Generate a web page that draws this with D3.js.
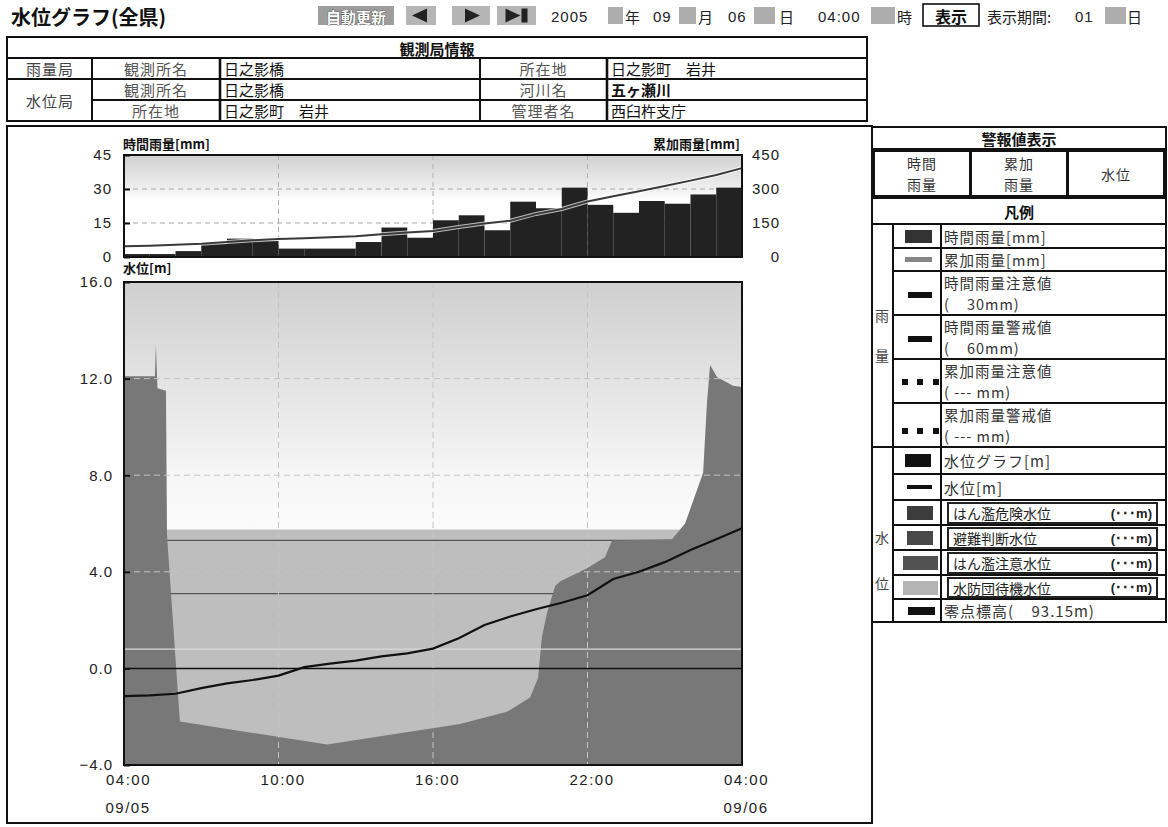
<!DOCTYPE html>
<html><head><meta charset="utf-8">
<script src="https://cdn.jsdelivr.net/npm/d3@7/dist/d3.min.js"></script>
<style>
html,body{margin:0;padding:0;background:#fff;}
svg{display:block;}
text{white-space:pre;}
</style></head><body>
<svg id="chart" width="1168" height="827"></svg>
<script>
// ---------- data ----------
const timeTickHours = [0, 6, 12, 18, 24];
const timeTickLabels = ["04:00", "10:00", "16:00", "22:00", "04:00"];
const dateLabels = ["09/05", "09/06"];

// hourly rainfall [mm], 04:00 on 09/05 to 04:00 on 09/06
const rainHourly = [1.3, 1.3, 2.6, 5.9, 8.1, 7.1, 3.7, 3.7, 3.7, 6.6, 13.0, 8.5,
                    16.2, 18.4, 11.8, 24.4, 21.5, 30.6, 23.0, 19.5, 24.7, 23.5, 27.6, 30.6];
// cumulative rainfall [mm] at each hour boundary
const rainCumulative = [47, 50, 54, 58, 66, 74, 79, 83, 87, 92, 100, 108,
                        115, 132, 148, 160, 190, 212, 245, 268, 290, 313, 337, 362, 392];
const rainTicks = [0, 15, 30, 45];
const cumTicks = [0, 150, 300, 450];

// water-level graph (filled area) : hour offset / value [m]
const graphHours  = [0, 1.20, 1.24, 1.30, 1.63, 1.67, 2.17, 7.88, 13.05, 14.87, 15.77, 16.08, 16.23,
                     16.43, 16.74, 16.93, 17.98, 18.68, 18.95, 21.28, 21.79, 22.49, 22.64, 22.76, 23.03, 23.65, 24];
const graphValues = [12.1, 12.1, 13.4, 11.6, 11.5, 5.5, -2.2, -3.15, -2.3, -1.8, -1.2, -0.4, 1.3,
                     2.3, 3.4, 3.6, 4.15, 4.6, 5.3, 5.35, 6.0, 8.1, 11.0, 12.56, 12.07, 11.7, 11.65];

// water level [m], hourly
const levelHours  = [0,1,2,3,4,5,6,7,8,9,10,11,12,13,14,15,16,17,18,19,20,21,22,23,24];
const levelValues = [-1.15, -1.12, -1.05, -0.82, -0.62, -0.48, -0.3, 0.05, 0.2, 0.32, 0.5, 0.62,
                     0.82, 1.25, 1.8, 2.15, 2.45, 2.72, 3.03, 3.7, 4.0, 4.4, 4.9, 5.35, 5.8];
const levelTicks = [-4, 0, 4, 8, 12, 16];
const levelBandTop = 5.75;          // top of the stand-by band
const levelLinesDark = [5.3, 3.1];  // warning lines
const levelLineLight = 0.8;
const levelZero = 0.0;

// station information
const stationTitle = "観測局情報";
const stationRows = [
  ["観測所名", "日之影橋", "所在地", "日之影町　岩井"],
  ["観測所名", "日之影橋", "河川名", "五ヶ瀬川"],
  ["所在地", "日之影町　岩井", "管理者名", "西臼杵支庁"]
];
const stationKinds = ["雨量局", "水位局"];

// legend
const alarmTitle = "警報値表示";
const alarmCells = [["時間", "雨量"], ["累加", "雨量"], ["水位"]];
const legendTitle = "凡例";
const legendRain = [["時間雨量[mm]"], ["累加雨量[mm]"], ["時間雨量注意値", "(    30mm)"],
                    ["時間雨量警戒値", "(    60mm)"], ["累加雨量注意値", "( --- mm)"], ["累加雨量警戒値", "( --- mm)"]];
const legendLevel = ["水位グラフ[m]", "水位[m]", "はん濫危険水位", "避難判断水位", "はん濫注意水位", "水防団待機水位", "零点標高(    93.15m)"];
const legendUnknown = "(･･･m)";

// ---------- drawing ----------
const svg = d3.select("#chart");
const JP = "'Noto Sans CJK JP','Noto Sans',sans-serif";
const NUM = "'Liberation Sans',Arial,sans-serif";

function txt(g, x, y, s, o = {}) {
  return g.append("text").attr("x", x).attr("y", y).text(s)
    .attr("font-family", o.ff || JP).attr("font-size", o.fs || 15)
    .attr("font-weight", o.fw || "normal").attr("fill", o.fill || "#111")
    .attr("text-anchor", o.anchor || "start").attr("dominant-baseline", "central")
    .attr("letter-spacing", o.ls || 0);
}

const defs = svg.append("defs");
const gr1 = defs.append("linearGradient").attr("id", "rainBg").attr("x1", 0).attr("y1", 0).attr("x2", 0).attr("y2", 1);
gr1.append("stop").attr("offset", "0%").attr("stop-color", "#d0d0d0");
gr1.append("stop").attr("offset", "30%").attr("stop-color", "#ececec");
gr1.append("stop").attr("offset", "45%").attr("stop-color", "#ffffff");
gr1.append("stop").attr("offset", "100%").attr("stop-color", "#ffffff");
const gr2 = defs.append("linearGradient").attr("id", "levelBg").attr("x1", 0).attr("y1", 0).attr("x2", 0).attr("y2", 1);
gr2.append("stop").attr("offset", "0%").attr("stop-color", "#cfcfcf");
gr2.append("stop").attr("offset", "40%").attr("stop-color", "#e3e3e3");
gr2.append("stop").attr("offset", "78%").attr("stop-color", "#f6f6f6");
gr2.append("stop").attr("offset", "100%").attr("stop-color", "#fbfbfb");

// ---- header ----
const hd = svg.append("g");
txt(hd, 11, 16, "水位グラフ(全県)", {fs: 20, fw: "bold"});
hd.append("rect").attr("x", 318).attr("y", 6).attr("width", 76).attr("height", 19).attr("fill", "#9d9d9d");
txt(hd, 356, 16, "自動更新", {fs: 15, fw: "bold", anchor: "middle", fill: "#fff"})
  .attr("stroke", "#333").attr("stroke-width", 0.7).attr("paint-order", "stroke");
const btns = [[406, 30, "prev"], [452, 38, "next"], [497, 39, "last"]];
btns.forEach(([x, w, k]) => {
  hd.append("rect").attr("x", x).attr("y", 6).attr("width", w).attr("height", 19).attr("fill", "#b5b5b5");
  const cx = x + w / 2, cy = 15.5;
  if (k === "prev") hd.append("path").attr("d", `M${cx - 9},${cy} L${cx + 6},${cy - 7} L${cx + 6},${cy + 7} Z`).attr("fill", "#222");
  if (k === "next") hd.append("path").attr("d", `M${cx + 9},${cy} L${cx - 6},${cy - 7} L${cx - 6},${cy + 7} Z`).attr("fill", "#222");
  if (k === "last") {
    hd.append("path").attr("d", `M${cx + 4},${cy} L${cx - 11},${cy - 7} L${cx - 11},${cy + 7} Z`).attr("fill", "#222");
    hd.append("rect").attr("x", cx + 5).attr("y", cy - 7).attr("width", 6).attr("height", 14).attr("fill", "#222");
  }
});
const hdrItems = [[551, "2005", NUM], [625, "年", JP], [653, "09", NUM], [698, "月", JP], [728, "06", NUM],
                  [779, "日", JP], [818, "04:00", NUM], [897, "時", JP], [987, "表示期間:", JP], [1075, "01", NUM], [1127, "日", JP]];
hdrItems.forEach(([x, s, f]) => txt(hd, x, 16, s, {fs: 15, ff: f, fill: "#222", ls: f === NUM ? 1 : 0}));
[[608, 15], [679, 17], [754, 21], [871, 24], [1105, 21]].forEach(([x, w]) =>
  hd.append("rect").attr("x", x).attr("y", 7).attr("width", w).attr("height", 17).attr("fill", "#adadad"));
hd.append("rect").attr("x", 923).attr("y", 4).attr("width", 56).attr("height", 22)
  .attr("fill", "#fff").attr("stroke", "#111").attr("stroke-width", 1.6);
txt(hd, 951, 15.5, "表示", {fs: 16, fw: "bold", anchor: "middle"});

// ---- station table ----
const st = svg.append("g");
const tc = [7, 92, 220, 480, 607, 867], tr = [37, 58, 79, 100, 121];
const ln = (g, x1, y1, x2, y2, w = 2, c = "#111") => g.append("line").attr("x1", x1).attr("y1", y1)
  .attr("x2", x2).attr("y2", y2).attr("stroke", c).attr("stroke-width", w);
st.append("rect").attr("x", tc[0]).attr("y", tr[0]).attr("width", tc[5] - tc[0]).attr("height", tr[4] - tr[0])
  .attr("fill", "none").attr("stroke", "#111").attr("stroke-width", 2);
ln(st, tc[0], tr[1], tc[5], tr[1]);
ln(st, tc[0], tr[2], tc[5], tr[2]);
ln(st, tc[1], tr[3], tc[5], tr[3]);
[1, 2, 3, 4].forEach(i => ln(st, tc[i], tr[1], tc[i], tr[4], i === 2 || i === 4 ? 2.6 : 2));
txt(st, 437, 48, stationTitle, {fs: 15, fw: "bold", anchor: "middle"});
txt(st, 50, (tr[1] + tr[2]) / 2, stationKinds[0], {fs: 15, anchor: "middle", fill: "#444", ls: 1});
txt(st, 50, (tr[2] + tr[4]) / 2, stationKinds[1], {fs: 15, anchor: "middle", fill: "#444", ls: 1});
stationRows.forEach((r, i) => {
  const cy = (tr[i + 1] + tr[i + 2]) / 2;
  txt(st, (tc[1] + tc[2]) / 2, cy, r[0], {fs: 15, anchor: "middle", fill: "#555", ls: 1});
  txt(st, tc[2] + 4, cy, r[1], {fs: 15, fill: "#111"});
  txt(st, (tc[3] + tc[4]) / 2, cy, r[2], {fs: 15, anchor: "middle", fill: "#555", ls: 1});
  txt(st, tc[4] + 4, cy, r[3], {fs: 15, fill: "#111", fw: i === 1 ? "bold" : "normal"});
});

// ---- chart frame ----
svg.append("rect").attr("x", 7).attr("y", 126).attr("width", 865).attr("height", 697)
  .attr("fill", "none").attr("stroke", "#111").attr("stroke-width", 2);

const x = d3.scaleLinear().domain([0, 24]).range([124, 742]);

// ---- rainfall chart ----
const yRain = d3.scaleLinear().domain([0, 45]).range([257, 155]);
const yCum = d3.scaleLinear().domain([0, 450]).range([257, 155]);
const rc = svg.append("g");
rc.append("rect").attr("x", x(0)).attr("y", yRain(45)).attr("width", x(24) - x(0)).attr("height", yRain(0) - yRain(45))
  .attr("fill", "url(#rainBg)");
[15, 30].forEach(v => ln(rc, x(0), yRain(v), x(24), yRain(v), 1, "#a8a8a8").attr("stroke-dasharray", "5,4"));
[6, 12, 18].forEach(h => ln(rc, x(h), yRain(45), x(h), yRain(0), 1, "#b0b0b0").attr("stroke-dasharray", "5,4"));
rc.selectAll("rect.bar").data(rainHourly).join("rect").attr("class", "bar")
  .attr("x", (d, i) => x(i)).attr("width", (d, i) => x(i + 1) - x(i))
  .attr("y", d => yRain(d)).attr("height", d => yRain(0) - yRain(d)).attr("fill", "#222");
const cumLine = d3.line().x((d, i) => x(i)).y(d => yCum(d));
rc.append("path").attr("d", cumLine(rainCumulative)).attr("fill", "none").attr("stroke", "#fff")
  .attr("stroke-width", 4).attr("opacity", 0.7);
rc.append("path").attr("d", cumLine(rainCumulative)).attr("fill", "none").attr("stroke", "#3a3a3a").attr("stroke-width", 2);
rc.append("rect").attr("x", x(0)).attr("y", yRain(45)).attr("width", x(24) - x(0)).attr("height", yRain(0) - yRain(45))
  .attr("fill", "none").attr("stroke", "#111").attr("stroke-width", 2);
const ra = rc.append("g").attr("transform", `translate(${x(0)},0)`)
  .call(d3.axisLeft(yRain).tickValues(rainTicks).tickSizeInner(-6).tickSizeOuter(0).tickPadding(12));
ra.select(".domain").remove();
ra.selectAll("line").attr("stroke", "#111").attr("stroke-width", 2);
ra.selectAll("text").attr("font-family", NUM).attr("font-size", 15).attr("fill", "#222").attr("letter-spacing", 1);
const rb = rc.append("g").attr("transform", `translate(${x(24)},0)`)
  .call(d3.axisRight(yCum).tickValues(cumTicks).tickSize(0).tickPadding(38));
rb.select(".domain").remove();
rb.selectAll("text").attr("text-anchor", "end").attr("font-family", NUM).attr("font-size", 15).attr("fill", "#222").attr("letter-spacing", 1);
txt(rc, 123, 143, "時間雨量[mm]", {fs: 13, fw: "bold"});
txt(rc, 740, 143, "累加雨量[mm]", {fs: 13, fw: "bold", anchor: "end"});
txt(rc, 123, 267, "水位[m]", {fs: 13, fw: "bold"});

// ---- water level chart ----
const yL = d3.scaleLinear().domain([-4, 16]).range([765, 282]);
const wc = svg.append("g");
wc.append("rect").attr("x", x(0)).attr("y", yL(16)).attr("width", x(24) - x(0)).attr("height", yL(levelBandTop) - yL(16))
  .attr("fill", "url(#levelBg)");
wc.append("rect").attr("x", x(0)).attr("y", yL(levelBandTop)).attr("width", x(24) - x(0)).attr("height", yL(-4) - yL(levelBandTop))
  .attr("fill", "#bebebe");
levelLinesDark.forEach(v => ln(wc, x(0), yL(v), x(24), yL(v), 1.2, "#555"));
const area = d3.area().x(d => x(d[0])).y0(yL(-4)).y1(d => yL(d[1]));
wc.append("path").attr("d", area(graphHours.map((h, i) => [h, graphValues[i]]))).attr("fill", "#787878");
ln(wc, x(0), yL(levelLineLight), x(24), yL(levelLineLight), 1.2, "#d8d8d8");
ln(wc, x(0), yL(levelZero), x(24), yL(levelZero), 1.5, "#111");
[4, 8, 12].forEach(v => ln(wc, x(0), yL(v), x(24), yL(v), 1, "#c4c4c4").attr("stroke-dasharray", "6,4"));
[6, 12, 18].forEach(h => ln(wc, x(h), yL(16), x(h), yL(-4), 1, "#c4c4c4").attr("stroke-dasharray", "6,4"));
const lvLine = d3.line().x(d => x(d[0])).y(d => yL(d[1]));
wc.append("path").attr("d", lvLine(levelHours.map((h, i) => [h, levelValues[i]])))
  .attr("fill", "none").attr("stroke", "#111").attr("stroke-width", 2.2);
wc.append("rect").attr("x", x(0)).attr("y", yL(16)).attr("width", x(24) - x(0)).attr("height", yL(-4) - yL(16))
  .attr("fill", "none").attr("stroke", "#111").attr("stroke-width", 2);
const la = wc.append("g").attr("transform", `translate(${x(0)},0)`)
  .call(d3.axisLeft(yL).tickValues(levelTicks).tickFormat(d3.format(".1f")).tickSizeInner(-6).tickSizeOuter(0).tickPadding(11));
la.select(".domain").remove();
la.selectAll("line").attr("stroke", "#111").attr("stroke-width", 2);
la.selectAll("text").attr("font-family", NUM).attr("font-size", 15).attr("fill", "#222").attr("letter-spacing", 1);
const xa = wc.append("g").attr("transform", `translate(4,${yL(-4)})`)
  .call(d3.axisBottom(x).tickValues(timeTickHours).tickFormat((d, i) => timeTickLabels[i]).tickSize(0).tickPadding(9));
xa.select(".domain").remove();
xa.selectAll("text").attr("font-family", NUM).attr("font-size", 15).attr("fill", "#222").attr("letter-spacing", 1.5);
txt(wc, x(0) + 4, 807, dateLabels[0], {ff: NUM, fs: 15, anchor: "middle", fill: "#222", ls: 1.5});
txt(wc, x(24) + 4, 807, dateLabels[1], {ff: NUM, fs: 15, anchor: "middle", fill: "#222", ls: 1.5});

// ---- legend panel ----
const lg = svg.append("g");
const L0 = 872, L1 = 1166, Lg = 893, Ls = 941;
lg.append("rect").attr("x", L0).attr("y", 127).attr("width", L1 - L0).attr("height", 495)
  .attr("fill", "none").attr("stroke", "#111").attr("stroke-width", 2);
ln(lg, L0, 149, L1, 149);
txt(lg, (L0 + L1) / 2, 138, alarmTitle, {fs: 15, fw: "bold", anchor: "middle"});
[[874, 96], [971, 96], [1068, 96]].forEach(([cx, w], i) => {
  lg.append("rect").attr("x", cx).attr("y", 151).attr("width", w).attr("height", 45)
    .attr("fill", "none").attr("stroke", "#111").attr("stroke-width", 2);
  const lines = alarmCells[i];
  lines.forEach((s, j) => txt(lg, cx + w / 2, 173.5 + (j - (lines.length - 1) / 2) * 20.5, s,
    {fs: 14, anchor: "middle", fill: "#333", ls: 1}));
});
ln(lg, L0, 198, L1, 198);
txt(lg, (L0 + L1) / 2, 211, legendTitle, {fs: 15, fw: "bold", anchor: "middle"});
const rowY = [224, 248, 271, 315, 359, 403, 447, 474, 500, 525, 550, 575, 599, 622];
ln(lg, L0, rowY[0], L1, rowY[0]);
ln(lg, Lg, rowY[0], Lg, 622);
ln(lg, Ls, rowY[0], Ls, 622);
rowY.slice(1, -1).forEach((y, i) => ln(lg, i === 5 ? L0 : Lg, y, L1, y));
txt(lg, 882, 315, "雨", {fs: 14, anchor: "middle", fill: "#444"});
txt(lg, 882, 355, "量", {fs: 14, anchor: "middle", fill: "#444"});
txt(lg, 882, 537, "水", {fs: 14, anchor: "middle", fill: "#444"});
txt(lg, 882, 583, "位", {fs: 14, anchor: "middle", fill: "#444"});
legendRain.forEach((lines, i) => {
  const y0 = rowY[i], y1 = rowY[i + 1];
  lines.forEach((s, j) => txt(lg, 944, (y0 + y1) / 2 + (j - (lines.length - 1) / 2) * 21.5, s, {fs: 14.5, fill: "#333", ls: 1}));
});
const box = (x0, y0, w, h, c) => lg.append("rect").attr("x", x0).attr("y", y0).attr("width", w).attr("height", h).attr("fill", c);
box(905, 230, 27, 13, "#333");
box(905, 257, 27, 5, "#858585");
box(908, 292, 24, 6, "#111");
box(908, 336, 24, 6, "#111");
[902, 917, 933].forEach(xx => { box(xx, 379, 6, 6, "#111"); box(xx, 428, 6, 6, "#111"); });
legendLevel.forEach((s, i) => {
  const y0 = rowY[i + 6], y1 = rowY[i + 7], cy = (y0 + y1) / 2;
  if (i >= 2 && i <= 5) {
    lg.append("rect").attr("x", 948).attr("y", y0 + 3).attr("width", 209).attr("height", y1 - y0 - 5)
      .attr("fill", "none").attr("stroke", "#222").attr("stroke-width", 2);
    txt(lg, 953, cy + 0.5, s, {fs: 14, fill: "#222"});
    txt(lg, 1152, cy + 0.5, legendUnknown, {fs: 13, fill: "#222", anchor: "end", ff: NUM, fw: "bold"});
  } else {
    txt(lg, 944, cy, s, {fs: 15, fill: "#333", ls: 1});
  }
});
box(905, 454, 26, 13, "#111");
box(907, 485, 25, 4, "#111");
box(907, 506, 26, 14, "#3c3c3c");
box(907, 531, 26, 14, "#484848");
box(903, 556, 35, 14, "#525252");
box(903, 581, 35, 14, "#b4b4b4");
box(908, 607, 27, 8, "#111");
</script>
</body></html>
